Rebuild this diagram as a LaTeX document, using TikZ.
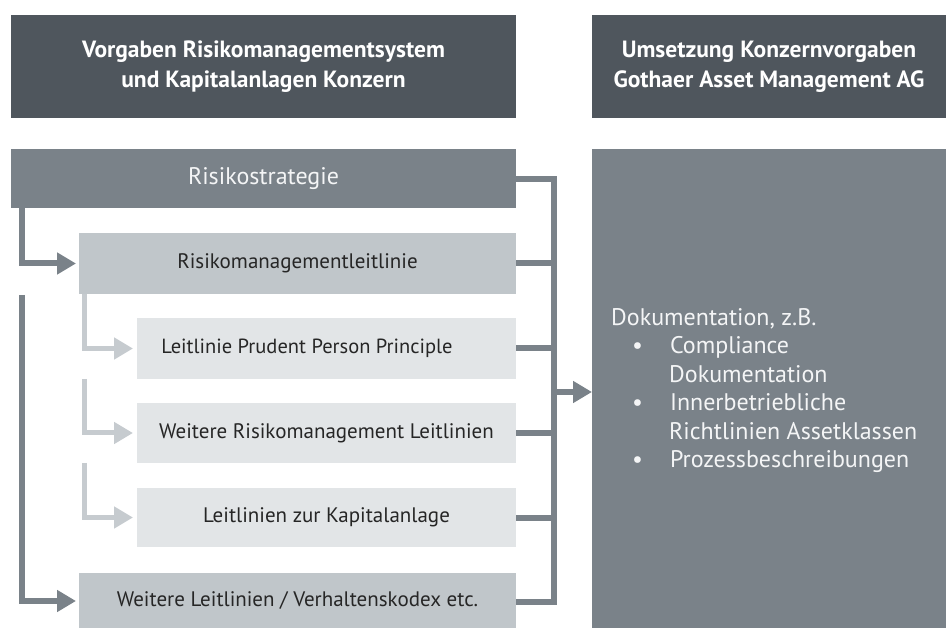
\documentclass[tikz,border=0pt]{standalone}
\usepackage{fontspec}
\setmainfont{PT Sans}
\newfontfamily\headfont{PT Sans}
\usetikzlibrary{arrows.meta,positioning}
\definecolor{headgrey}{HTML}{4F565D}
\definecolor{midgrey}{HTML}{7A8289}
\definecolor{lightgrey}{HTML}{C0C6CA}
\definecolor{palegrey}{HTML}{E2E5E7}
\definecolor{conlight}{HTML}{C6CBCF}
\begin{document}
\begin{tikzpicture}[x=1pt,y=-1pt,
  box/.style={anchor=north west, inner sep=0pt, outer sep=0pt},
  headbox/.style={box, fill=headgrey, text=white, font=\headfont\bfseries\fontsize{23.5}{30}\selectfont, align=center},
  darkbox/.style={box, fill=midgrey, text=white!92!midgrey, font=\fontsize{24}{28}\selectfont},
  midbox/.style={box, fill=lightgrey, text=black!85, font=\fontsize{21}{25}\selectfont},
  lightbox/.style={box, fill=palegrey, text=black!85, font=\fontsize{21}{25}\selectfont},
  conn/.style={draw=midgrey, line width=6pt},
  connl/.style={draw=conlight, line width=5pt},
  tip/.style={-{Triangle[length=19pt,width=21pt]}}
]
\useasboundingbox (0,0) rectangle (946,628);
% headers
\node[headbox, minimum width=505, minimum height=103] (h1) at (11,15) {Vorgaben Risikomanagementsystem\\und Kapitalanlagen Konzern};
\node[headbox, minimum width=354, minimum height=103] (h2) at (592,15) {Umsetzung Konzernvorgaben\\Gothaer Asset Management AG};
% left column
\node[darkbox, minimum width=505, minimum height=59] (rs) at (11,149) {Risikostrategie};
\node[midbox, minimum width=437, minimum height=61] (rml) at (79,233) {Risikomanagementleitlinie};
\node[lightbox, minimum width=379, minimum height=61] (ppp) at (137,318) {};
\node[font=\fontsize{20.5}{25}\selectfont, text=black!85] (ppptext) at (307,348.5) {Leitlinie Prudent Person Principle};
\node[lightbox, minimum width=379, minimum height=60] (wrl) at (137,403) {Weitere Risikomanagement Leitlinien};
\node[lightbox, minimum width=379, minimum height=59] (lzk) at (137,488) {Leitlinien zur Kapitalanlage};
\node[midbox, minimum width=437, minimum height=55] (wlv) at (79,573) {Weitere Leitlinien / Verhaltenskodex etc.};
% right box
\node[box, fill=midgrey, minimum width=354, minimum height=479] (doc) at (592,149) {};
\node[anchor=north west, inner sep=0pt, text=white!92!midgrey, font=\fontsize{24}{28.5}\selectfont, align=left] (doctext) at (611,308)
  {Dokumentation, z.B.\\
   \hspace*{21pt}\textbullet\hspace*{27pt}Compliance\\
   \hspace*{58pt}Dokumentation\\
   \hspace*{21pt}\textbullet\hspace*{27pt}Innerbetriebliche\\
   \hspace*{58pt}Richtlinien Assetklassen\\
   \hspace*{21pt}\textbullet\hspace*{27pt}Prozessbeschreibungen};
% bus coordinates
\coordinate (busx) at (554,0);
\coordinate (lx) at (22,0);
\coordinate (lly) at (84,0);
% right bus
\draw[conn] (rs.east |- 0,179) -- (busx |- 0,179);
\draw[conn] (rml.east) -- (rml.east -| busx);
\draw[conn] (ppp.east) -- (ppp.east -| busx);
\draw[conn] (wrl.east) -- (wrl.east -| busx);
\draw[conn] (lzk.east) -- (lzk.east -| busx);
\draw[conn] (wlv.east |- 0,602) -- (busx |- 0,602);
\draw[conn, line cap=rect] (busx |- 0,179) -- (busx |- 0,602);
\coordinate (busout) at (554,392);
\draw[conn, tip] (busout) -- (busout -| doc.west);
% left dark connectors
\draw[conn, tip] (lx |- rs.south) -- (lx |- rml.west) -- ([xshift=-3pt]rml.west);
\draw[conn, tip] (lx |- rml.south) ++(0,1) -- (lx |- 0,601) -- ([xshift=-3pt]wlv.west |- 0,601);
% light connectors
\draw[connl, tip] (lly |- rml.south) -- (lly |- ppp.west) -- ([xshift=-4pt]ppp.west);
\draw[connl, tip] (lly |- ppp.south) -- (lly |- wrl.west) -- ([xshift=-4pt]wrl.west);
\draw[connl, tip] (lly |- wrl.south) -- (lly |- lzk.west) -- ([xshift=-4pt]lzk.west);
\end{tikzpicture}
\end{document}
